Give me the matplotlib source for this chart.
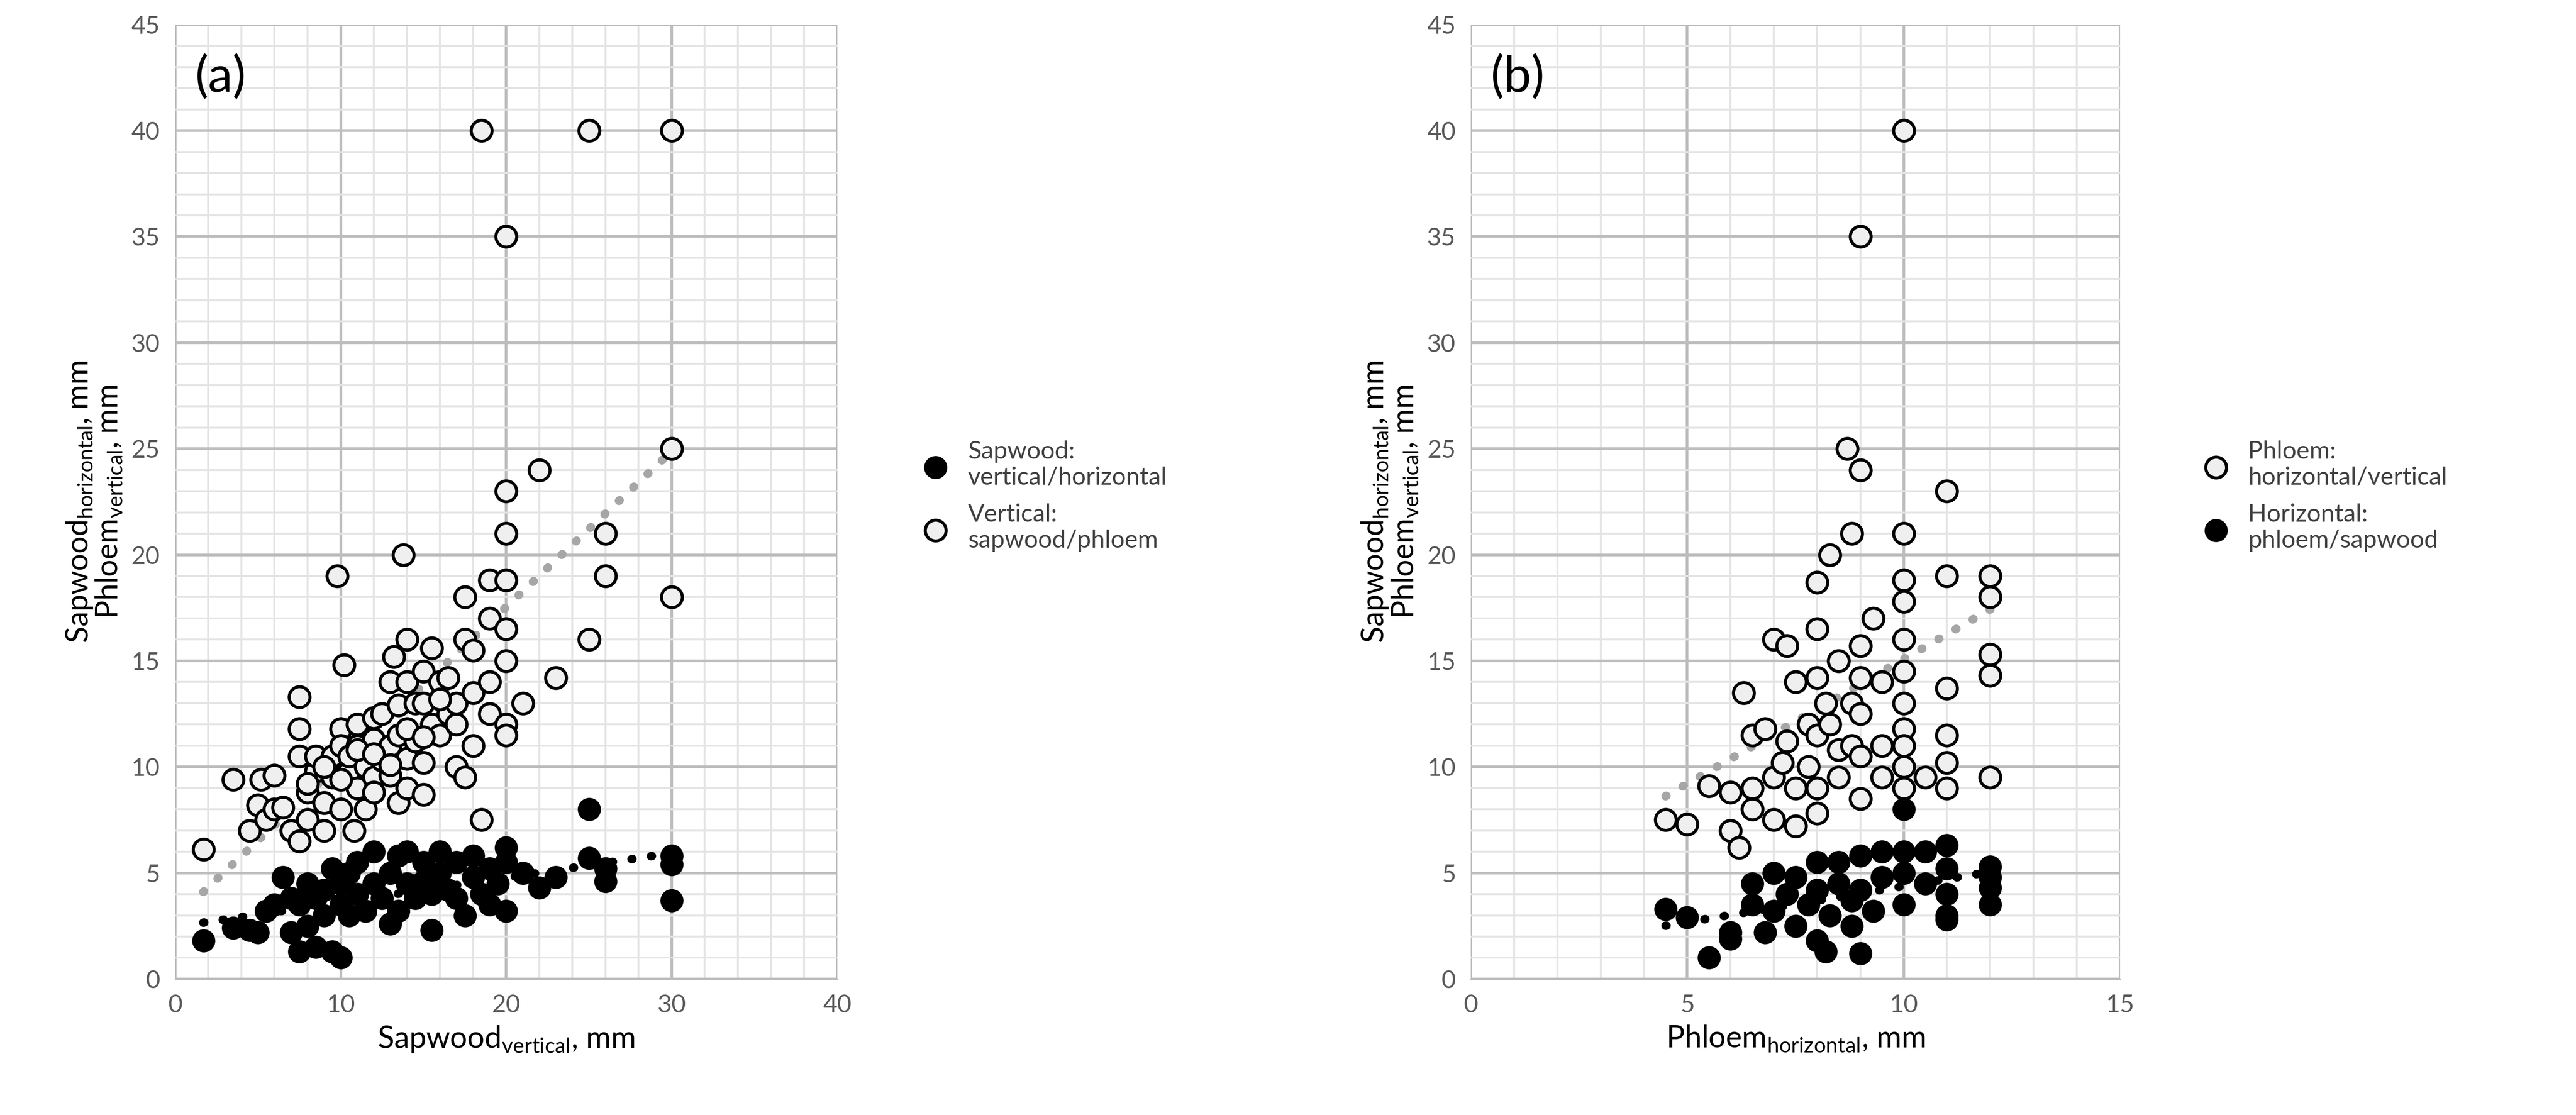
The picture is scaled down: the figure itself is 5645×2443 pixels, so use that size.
import numpy as np
import matplotlib.pyplot as plt
from matplotlib.ticker import MultipleLocator

plt.rcParams['font.family'] = 'Lato'

# panel (a): x = sapwood vertical
a_open_x = [1.7,3.5,4.5,5,5.2,5.5,6,6,6.5,7,7.5,7.5,7.5,7.5,8,8,8.5,8.5,9,9,9.5,9.5,9.8,10,10,10,10.2,10.5,10.5,10.8,
            11,11,11,11.5,11.5,12,12,12,12,12.5,12.5,13,13,13,13.2,13.5,13.5,13.5,13.8,14,14,14,14,14.5,14.5,15,15,15,15,
            15.5,15.5,16,16,16.5,16.5,17,17,17.5,17.5,17.5,18,18,18,18.5,18.5,19,19,19,19,20,20,20,20,20,20,20,20,21,22,
            23,25,25,26,26,30,30,30,
            8,9,10,11,12,13,14,15,16,17]
a_open_y = [6.1,9.4,7,8.2,9.4,7.5,8,9.6,8.1,7,11.8,13.3,10.5,6.5,8.8,7.5,9.8,10.5,8.3,7,10.5,9.5,19,11.8,11,8,14.8,9.8,10.5,7,
            12,11,9,8,10,12.3,11.3,9.5,8.8,12.5,10.3,11,9.6,14,15.2,12.9,11.5,8.3,20,16,14,10.4,9,13,11.2,14.5,13,10.2,8.7,
            15.6,12,14,11.5,14.2,12.5,13,10,18,16,9.5,15.5,13.5,11,40,7.5,18.8,17,14,12.5,35,23,21,18.8,16.5,15,12,11.5,13,24,
            14.2,40,16,21,19,40,25,18,
            9.2,10,9.4,10.8,10.6,10.1,11.8,11.4,13.2,12]
a_fill_x = [1.7,3.5,4.5,5,5.5,6,6.5,7,7,7.5,7.5,8,8,8.5,8.5,9,9,9.5,9.5,10,10,10,10.5,10.5,11,11,11.5,12,12,12.5,13,13,
            13.5,13.5,14,14,14.5,15,15,15.5,15.5,16,16,16.5,17,17,17.5,18,18,18.5,19,19,19.5,20,20,20,21,22,23,25,25,26,26,
            30,30,30]
a_fill_y = [1.8,2.4,2.3,2.2,3.2,3.5,4.8,2.2,3.8,1.3,3.5,2.5,4.5,1.5,3.8,3,4.2,1.3,5.2,1,3.5,4.5,3,5,4,5.5,3.2,4.5,6,3.8,2.6,5,
            3.2,5.8,4.5,6,3.8,4.6,5.5,2.3,4,5,6,4.2,5.5,3.8,3,4.8,5.8,4,3.5,5.2,4.5,3.2,5.5,6.2,5,4.3,4.8,8,5.7,5.2,4.6,
            5.8,5.4,3.7]

# panel (b): x = phloem horizontal
b_open_x = [4.5,5,5.5,6,6,6.2,6.3,6.5,6.5,6.5,6.8,7,7,7,7.2,7.3,7.3,7.5,7.5,7.5,7.8,7.8,8,8,8,8,8,8,8.2,8.3,8.3,8.5,8.5,8.5,
            8.7,8.8,8.8,8.8,9,9,9,9,9,9,9,9.3,9.5,9.5,9.5,10,10,10,10,10,10,10,10,10,10,10,10.5,11,11,11,11,11,11,
            12,12,12,12,12]
b_open_y = [7.5,7.3,9.1,8.8,7,6.2,13.5,9,11.5,8,11.8,16,9.5,7.5,10.2,15.7,11.2,14,9,7.2,12,10,18.7,16.5,14.2,11.5,9,7.8,13,20,12,
            15,10.8,9.5,25,21,13,11,35,24,15.7,14.2,12.5,10.5,8.5,17,14,11,9.5,40,21,18.8,17.8,16,14.5,13,11.8,11,10,9,9.5,23,
            19,13.7,11.5,10.2,9,19,18,15.3,14.3,9.5]
b_fill_x = [4.5,5,5.5,6,6,6.5,6.5,6.8,7,7,7.3,7.5,7.5,7.8,8,8,8,8.2,8.3,8.5,8.5,8.8,8.8,9,9,9,9.3,9.5,9.5,10,10,10,10,10.5,
            10.5,11,11,11,11,11,12,12,12,12]
b_fill_y = [3.3,2.9,1,1.9,2.2,3.5,4.5,2.2,3.2,5,4,2.5,4.8,3.5,1.8,4.2,5.5,1.3,3,4.5,5.5,2.5,3.7,1.2,4.2,5.8,3.2,4.8,6,8,3.5,5,
            6,4.5,6,6.3,5.2,4,3,2.8,5.3,4.8,4.3,3.5]

OPEN = '#efefef'
DOT = (0, (0.1, 2.2))


def style(ax, xmax, xmaj, xmin):
    ax.set_xlim(0, xmax)
    ax.set_ylim(0, 45)
    ax.xaxis.set_major_locator(MultipleLocator(xmaj))
    ax.xaxis.set_minor_locator(MultipleLocator(xmin))
    ax.yaxis.set_major_locator(MultipleLocator(5))
    ax.yaxis.set_minor_locator(MultipleLocator(1))
    ax.grid(which='major', color='#bdbdbd', lw=1.4)
    ax.grid(which='minor', color='#e4e4e4', lw=1.0)
    ax.set_axisbelow(True)
    for s in ['top', 'right', 'left']:
        ax.spines[s].set_visible(False)
    ax.spines['bottom'].set_color('#bdbdbd')
    ax.tick_params(which='both', length=0, labelsize=13, colors='#595959', pad=8)
    ax.set_ylabel('Sapwood$_{\\mathregular{horizontal}}$, mm\nPhloem$_{\\mathregular{vertical}}$, mm',
                  fontsize=16, linespacing=1.0)


def trend(ax, x, y, color):
    x = np.array(x); y = np.array(y)
    xs = np.linspace(x.min(), x.max(), 60)
    c = np.polyfit(x, y, 1)
    ax.plot(xs, np.polyval(c, xs), linestyle=DOT, color=color, lw=4.5, dash_capstyle='round', zorder=3)


fig = plt.figure(figsize=(5645/300, 2443/300), dpi=300)
ax1 = fig.add_axes([0.068, 0.122, 0.257, 0.856])
ax2 = fig.add_axes([0.571, 0.122, 0.252, 0.856])

style(ax1, 40, 10, 2)
f1 = ax1.scatter(a_fill_x, a_fill_y, s=120, c='black', edgecolors='black', lw=1.2, zorder=4)
o1 = ax1.scatter(a_open_x, a_open_y, s=120, c=OPEN, edgecolors='black', lw=1.6, zorder=4)
trend(ax1, a_open_x, a_open_y, '#a6a6a6')
trend(ax1, a_fill_x, a_fill_y, 'black')
ax1.set_xlabel('Sapwood$_{\\mathregular{vertical}}$, mm', fontsize=16)
ax1.text(1.2, 42.5, '(a)', fontsize=26, va='center')
fig.legend([f1, o1], ['Sapwood:\nvertical/horizontal', 'Vertical:\nsapwood/phloem'],
           loc='center left', bbox_to_anchor=(0.345, 0.555), frameon=False, fontsize=13,
           labelspacing=0.6, handletextpad=0.3, labelcolor='#404040')

style(ax2, 15, 5, 1)
o2 = ax2.scatter(b_open_x, b_open_y, s=120, c=OPEN, edgecolors='black', lw=1.6, zorder=4)
f2 = ax2.scatter(b_fill_x, b_fill_y, s=120, c='black', edgecolors='black', lw=1.2, zorder=4)
trend(ax2, b_open_x, b_open_y, '#a6a6a6')
trend(ax2, b_fill_x, b_fill_y, 'black')
ax2.set_xlabel('Phloem$_{\\mathregular{horizontal}}$, mm', fontsize=16)
ax2.text(0.45, 42.5, '(b)', fontsize=26, va='center')
fig.legend([o2, f2], ['Phloem:\nhorizontal/vertical', 'Horizontal:\nphloem/sapwood'],
           loc='center left', bbox_to_anchor=(0.842, 0.555), frameon=False, fontsize=13,
           labelspacing=0.6, handletextpad=0.3, labelcolor='#404040')

fig.savefig('out.png', dpi=300, facecolor='white')
